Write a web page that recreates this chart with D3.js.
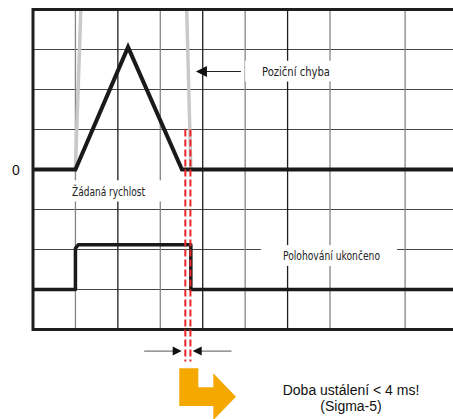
<!DOCTYPE html>
<html lang="cs">
<head>
<meta charset="UTF-8">
<title>Doba ustálení</title>
<script src="https://d3js.org/d3.v7.min.js"></script>
<style>
  body { margin: 0; background: #fff; }
  .lbl { font-family: "Liberation Sans Narrow", "DejaVu Sans Condensed", sans-serif; font-size: 12px; fill: #222; }
  .big { font-family: "Liberation Sans", Arial, sans-serif; font-size: 14px; fill: #111; }
</style>
</head>
<body>
<div id="chart"></div>
<script>
// grid positions (time units / signal units)
const gridX = [1, 2, 3, 4, 5, 6, 7, 8.77];
const gridY = [-3, -2, -1, 1, 2, 3];

// commanded speed (Žádaná rychlost)
const speedT = [0, 1.0, 2.24, 3.51, 10];
const speedV = [0, 0, 3.06, 0, 0];

// position error (Poziční chyba) - spike runs off the top of the frame
const errT = [1.0, 1.13, 3.62, 3.72];
const errV = [0, 4.1, 4.1, 0];

// positioning completed (Polohování ukončeno)
const doneT = [0, 1.0, 1.0, 1.07, 3.72, 3.72, 10];
const doneV = [-3, -3, -1.97, -1.88, -1.88, -3, -3];

// settling window (red dashed)
const settleT = [3.59, 3.71];

const W = 453, H = 419;
const x = d3.scaleLinear().domain([0, 10]).range([33, 457.3]);
const y = d3.scaleLinear().domain([-4, 4]).range([329.5, 9.5]);

const svg = d3.select("#chart").append("svg")
  .attr("width", W).attr("height", H);

svg.append("clipPath").attr("id", "frame")
  .append("rect")
  .attr("x", x(0)).attr("y", y(4))
  .attr("width", W - x(0)).attr("height", y(-4) - y(4));

// grid
svg.append("g").selectAll("line").data(gridY).join("line")
  .attr("x1", x(0)).attr("x2", W)
  .attr("y1", d => y(d)).attr("y2", d => y(d))
  .attr("stroke", "#444").attr("stroke-width", 1.2);

svg.append("g").selectAll("line").data(gridX).join("line")
  .attr("x1", d => x(d)).attr("x2", d => x(d))
  .attr("y1", y(4)).attr("y2", y(-4))
  .attr("stroke", (d, i) => (i % 2 === 1 && i < 7) ? "#1e1e1e" : "#858585")
  .attr("stroke-width", 1.3);

// white boxes behind labels
const boxes = [
  { x0: 5.0, x1: 7.19, y0: 2.72, y1: 2.2 },
  { x0: 0.78, x1: 3.11, y0: -0.27, y1: -0.8 },
  { x0: 5.37, x1: 8.58, y0: -1.89, y1: -2.41 }
];
svg.append("g").selectAll("rect").data(boxes).join("rect")
  .attr("x", d => x(d.x0)).attr("y", d => y(d.y0))
  .attr("width", d => x(d.x1) - x(d.x0)).attr("height", d => y(d.y1) - y(d.y0))
  .attr("fill", "#fff");

const line = d3.line().x(d => x(d[0])).y(d => y(d[1]));

// position error
svg.append("path")
  .attr("d", line(d3.zip(errT, errV)))
  .attr("clip-path", "url(#frame)")
  .attr("fill", "none").attr("stroke", "#c9c9c9").attr("stroke-width", 3.5);

// speed
svg.append("path")
  .attr("d", line(d3.zip(speedT, speedV)))
  .attr("fill", "none").attr("stroke", "#1a1a1a").attr("stroke-width", 4)
  .attr("stroke-linejoin", "miter");

// positioning completed
svg.append("path")
  .attr("d", line(d3.zip(doneT, doneV)))
  .attr("fill", "none").attr("stroke", "#1a1a1a").attr("stroke-width", 3.5)
  .attr("stroke-linejoin", "round");

// frame
svg.append("path")
  .attr("d", `M${W},${y(4)}H${x(0)}V${y(-4)}H${W}`)
  .attr("fill", "none").attr("stroke", "#1e1e1e").attr("stroke-width", 3);

// red dashed settling lines
svg.append("g").selectAll("line").data(settleT).join("line")
  .attr("x1", d => x(d)).attr("x2", d => x(d))
  .attr("y1", y(1)).attr("y2", y(-4.8))
  .attr("stroke", "#e8262b").attr("stroke-width", 2)
  .attr("stroke-dasharray", "7,3");

// arrow helper (tip at tx, pointing dir = -1 left / +1 right)
function head(tx, ty, dir, len, half) {
  return `M${tx},${ty}L${tx - dir * len},${ty - half}L${tx - dir * len},${ty + half}Z`;
}

// Poziční chyba arrow
svg.append("line")
  .attr("x1", x(4.9)).attr("x2", x(3.95))
  .attr("y1", y(2.45)).attr("y2", y(2.45))
  .attr("stroke", "#222").attr("stroke-width", 1);
svg.append("path").attr("d", head(x(3.84), y(2.45), -1, 11, 5.5)).attr("fill", "#111");

// dimension arrows under the chart
const dimY = y(-4.54);
svg.append("line").attr("x1", x(2.62)).attr("x2", x(3.45))
  .attr("y1", dimY).attr("y2", dimY).attr("stroke", "#555").attr("stroke-width", 1);
svg.append("line").attr("x1", x(3.8)).attr("x2", x(4.68))
  .attr("y1", dimY).attr("y2", dimY).attr("stroke", "#555").attr("stroke-width", 1);
svg.append("path").attr("d", head(x(3.505), dimY, 1, 9, 4.5)).attr("fill", "#111");
svg.append("path").attr("d", head(x(3.764), dimY, -1, 9, 4.5)).attr("fill", "#111");

// orange arrow
const orange = [
  [3.447, -4.97], [3.896, -4.97], [3.896, -5.445], [4.249, -5.445], [4.249, -5.095],
  [4.784, -5.68], [4.249, -6.265], [4.249, -5.91], [3.447, -5.91]
];
svg.append("path")
  .attr("d", line(orange) + "Z")
  .attr("fill", "#f5a800");

// labels
svg.append("text").attr("class", "big").attr("x", 16).attr("y", y(0) + 5)
  .attr("text-anchor", "middle").text("0");
svg.append("text").attr("class", "lbl").attr("x", 262).attr("y", 75.5)
  .attr("textLength", 68).attr("lengthAdjust", "spacingAndGlyphs").text("Poziční chyba");
svg.append("text").attr("class", "lbl").attr("x", 72).attr("y", 196)
  .attr("textLength", 73).attr("lengthAdjust", "spacingAndGlyphs").text("Žádaná rychlost");
svg.append("text").attr("class", "lbl").attr("x", 283).attr("y", 260)
  .attr("textLength", 97).attr("lengthAdjust", "spacingAndGlyphs").text("Polohování ukončeno");
svg.append("text").attr("class", "big").attr("x", 351).attr("y", 395)
  .attr("text-anchor", "middle").text("Doba ustálení < 4 ms!");
svg.append("text").attr("class", "big").attr("x", 351).attr("y", 411)
  .attr("text-anchor", "middle").text("(Sigma-5)");
</script>
</body>
</html>
